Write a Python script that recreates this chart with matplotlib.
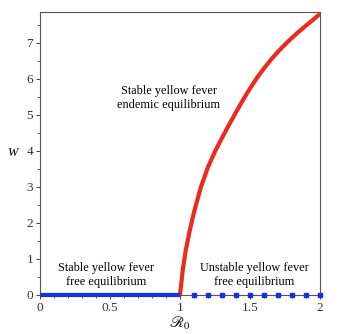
import matplotlib
matplotlib.use("Agg")
import matplotlib.pyplot as plt
from matplotlib.ticker import MultipleLocator

plt.rcParams['font.family'] = ['Liberation Serif', 'DejaVu Serif']
plt.rcParams['mathtext.fontset'] = 'stix'

# Data
stable_dfe_r0 = [0.0, 1.0]
stable_dfe_w = [0.0, 0.0]
unstable_dfe_r0 = [1.1, 1.2, 1.3, 1.4, 1.5, 1.6, 1.7, 1.8, 1.9, 2.0]
unstable_dfe_w = [0.0] * len(unstable_dfe_r0)
endemic_r0 = [1.0, 1.02, 1.04, 1.07, 1.10, 1.15, 1.20, 1.25, 1.30, 1.35, 1.40,
              1.45, 1.50, 1.55, 1.60, 1.65, 1.70, 1.75, 1.80, 1.85, 1.90, 1.95, 2.0]
endemic_w = [0.0, 0.70, 1.22, 1.79, 2.30, 3.00, 3.55, 3.98, 4.36, 4.72, 5.07,
             5.41, 5.73, 6.025, 6.29, 6.53, 6.75, 6.95, 7.135, 7.31, 7.475, 7.635, 7.80]

fig = plt.figure(figsize=(3.39, 3.34), dpi=100)
ax = fig.add_axes([0.118, 0.117, 0.826, 0.848])

ax.plot(endemic_r0, endemic_w, color='#ec2a1e', lw=3.0, solid_capstyle='butt',
        solid_joinstyle='round', zorder=3)
ax.plot(stable_dfe_r0, stable_dfe_w, color='#1530e0', lw=3.0, solid_capstyle='butt', zorder=4, clip_on=False)
ax.plot(unstable_dfe_r0, unstable_dfe_w, ls='none', marker='s', ms=3.0,
        color='#1530e0', zorder=4, clip_on=False)

ax.set_xlim(0, 2)
ax.set_ylim(0, 7.86)
ax.xaxis.set_major_locator(MultipleLocator(0.5))
ax.xaxis.set_minor_locator(MultipleLocator(0.1))
ax.yaxis.set_major_locator(MultipleLocator(1))
ax.yaxis.set_minor_locator(MultipleLocator(0.5))
ax.xaxis.set_major_formatter(plt.FuncFormatter(lambda v, p: ('%g' % v)))
ax.tick_params(which='major', direction='out', length=3, width=0.7, labelsize=9.5, pad=2,
               colors='#444444', labelcolor='#333333')
ax.tick_params(which='minor', direction='out', length=2, width=0.6, colors='#444444')
for s in ax.spines.values():
    s.set_color('#555555')
    s.set_linewidth(0.8)

ax.set_xlabel(r'$\mathscr{R}_0$', fontsize=11, labelpad=1)
ax.set_ylabel('W', fontsize=9, style='italic', rotation=0, va='center', labelpad=10)

ax.text(0.92, 5.46, 'Stable yellow fever\nendemic equilibrium', ha='center', va='center',
        fontsize=8.8, linespacing=1.2)
ax.text(0.47, 0.55, 'Stable yellow fever\nfree equilibrium', ha='center', va='center',
        fontsize=8.8, linespacing=1.2)
ax.text(1.53, 0.55, 'Unstable yellow fever\nfree equilibrium', ha='center', va='center',
        fontsize=8.8, linespacing=1.2)

fig.savefig('out.png', dpi=100)
